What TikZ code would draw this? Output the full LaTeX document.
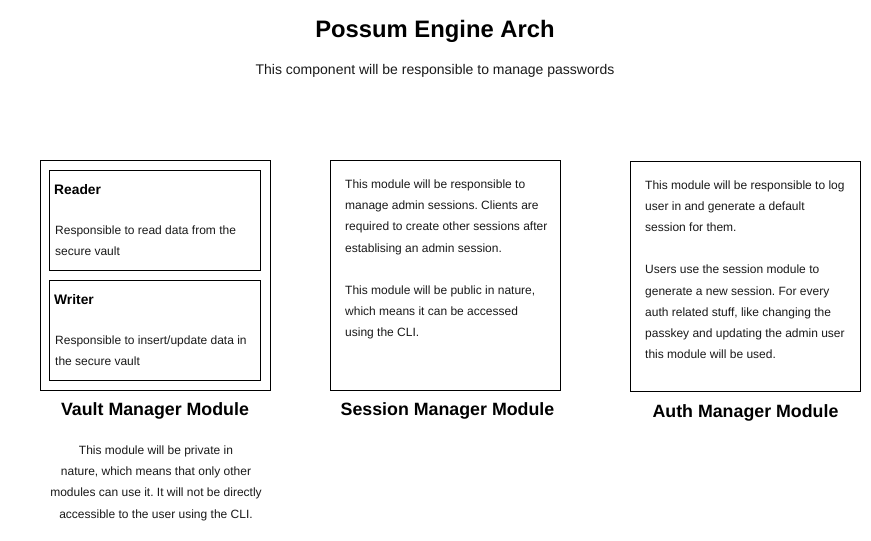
\documentclass[tikz,border=0pt]{standalone}
\usepackage{fontspec}
\setmainfont{Liberation Sans}
\frenchspacing
\begin{document}
\begin{tikzpicture}[x=1pt,y=-1pt,
  box/.style={draw=black, line width=1pt, inner sep=0pt, outer sep=0pt, anchor=north west},
  body/.style={font=\fontsize{12}{14}\selectfont, inner sep=0pt, anchor=base west, text=black!90},
  bodyc/.style={body, anchor=base},
  subtitlebox/.style={font=\bfseries\fontsize{13.8}{16}\selectfont, inner sep=0pt, anchor=base west},
  modlabel/.style={font=\bfseries\fontsize{17.8}{20}\selectfont, inner sep=0pt, anchor=base},
  titlestyle/.style={font=\bfseries\fontsize{23.8}{26}\selectfont, inner sep=0pt, anchor=base},
  subtitle/.style={font=\fontsize{14}{16}\selectfont, inner sep=0pt, anchor=base, text=black!90}]
\useasboundingbox (0,0) rectangle (871,541);

% title
\node[titlestyle] (title) at (435,37.5) {Possum Engine Arch};
\node[subtitle] (sub) at (435,74) {This component will be responsible to manage passwords};

% vault module
\node[box, minimum width=230pt, minimum height=230pt] (vault) at (40,160) {};
\node[box, minimum width=211pt, minimum height=100pt] (reader) at (49,170) {};
\node[box, minimum width=211pt, minimum height=100pt] (writer) at (49,280) {};
\node[subtitlebox] (readerT) at (54,194.5) {Reader};
\node[body] (r1) at (55,234) {Responsible to read data from the};
\node[body] (r2) at (55,255) {secure vault};
\node[subtitlebox] (writerT) at (54,304.5) {Writer};
\node[body] (w1) at (55,344) {Responsible to insert/update data in};
\node[body] (w2) at (55,365) {the secure vault};
\node[modlabel] (vaultL) at (155,415.5) {Vault Manager Module};
\foreach \k/\t in {0/{This module will be private in},
                   1/{nature, which means that only other},
                   2/{modules can use it. It will not be directly},
                   3/{accessible to the user using the CLI.}}
  \node[bodyc] (vd\k) at (156,454+21.4*\k) {\t};

% session module
\node[box, minimum width=230pt, minimum height=230pt] (session) at (330,160) {};
\foreach \k/\t in {0/{This module will be responsible to},
                   1/{manage admin sessions. Clients are},
                   2/{required to create other sessions after},
                   3/{establising an admin session.},
                   5/{This module will be public in nature,},
                   6/{which means it can be accessed},
                   7/{using the CLI.}}
  \node[body] (sd\k) at (345,188.5+21.2*\k) {\t};
\node[modlabel] (sessionL) at (447.5,415.5) {Session Manager Module};

% auth module
\node[box, minimum width=230pt, minimum height=230pt] (auth) at (630,161) {};
\foreach \k/\t in {0/{This module will be responsible to log},
                   1/{user in and generate a default},
                   2/{session for them.},
                   4/{Users use the session module to},
                   5/{generate a new session. For every},
                   6/{auth related stuff, like changing the},
                   7/{passkey and updating the admin user},
                   8/{this module will be used.}}
  \node[body] (ad\k) at (645,189+21.2*\k) {\t};
\node[modlabel] (authL) at (745.5,417) {Auth Manager Module};
\end{tikzpicture}
\end{document}
